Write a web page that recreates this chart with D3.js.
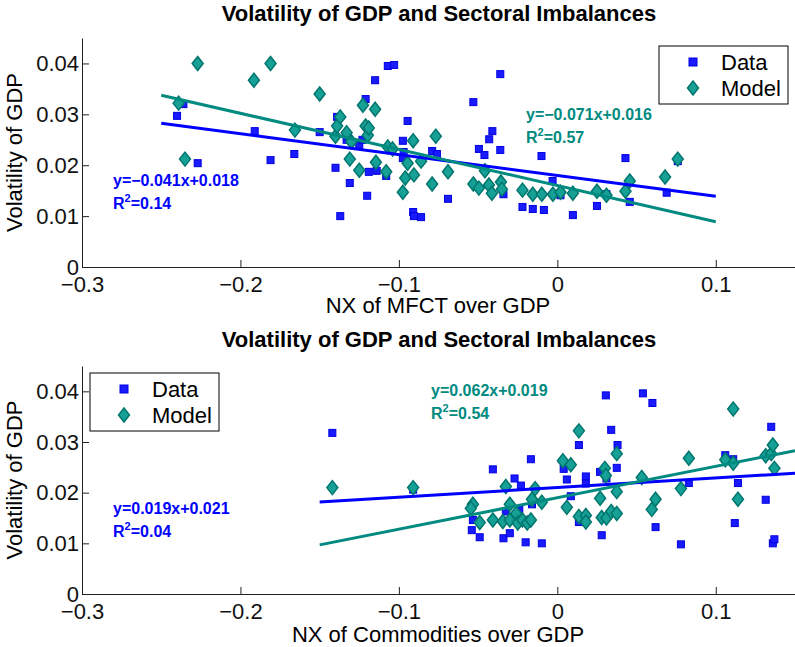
<!DOCTYPE html>
<html>
<head>
<meta charset="utf-8">
<script src="https://cdn.jsdelivr.net/npm/d3@7"></script>
<style>
  body { margin: 0; background: #fff; }
  svg { font-family: "Liberation Sans", Arial, sans-serif; }
</style>
</head>
<body>
<svg width="795" height="647"></svg>
<script>
// values: [x, y]
const topData = [
  [-0.236, 0.0320], [-0.240, 0.0297], [-0.227, 0.0204], [-0.191, 0.0267], [-0.181, 0.0210],
  [-0.166, 0.0222], [-0.150, 0.0265], [-0.140, 0.0195], [-0.139, 0.0295], [-0.137, 0.0100],
  [-0.131, 0.0165], [-0.133, 0.0250], [-0.125, 0.0240], [-0.123, 0.0250], [-0.121, 0.0330],
  [-0.120, 0.0140], [-0.119, 0.0187], [-0.115, 0.0367], [-0.114, 0.0189], [-0.108, 0.0179],
  [-0.107, 0.0395], [-0.103, 0.0397], [-0.0975, 0.0248], [-0.0945, 0.0287], [-0.097, 0.0226],
  [-0.0975, 0.0214], [-0.091, 0.0108], [-0.0905, 0.0100], [-0.086, 0.0098], [-0.079, 0.0228],
  [-0.076, 0.0222], [-0.069, 0.0134], [-0.053, 0.0324], [-0.0495, 0.0232], [-0.046, 0.0220],
  [-0.043, 0.0251], [-0.041, 0.0267], [-0.036, 0.0379], [-0.036, 0.0230], [-0.034, 0.0143],
  [-0.022, 0.0118], [-0.0155, 0.0114], [-0.010, 0.0218], [-0.0085, 0.0112], [-0.003, 0.0169],
  [0.002, 0.0141], [0.0098, 0.0102], [0.025, 0.0120], [0.031, 0.0143], [0.043, 0.0214],
  [0.0457, 0.0128], [0.069, 0.0146], [0.076, 0.0208]
]
const topModel = [
  [-0.239, 0.0322], [-0.235, 0.0212], [-0.227, 0.0400], [-0.1915, 0.0367], [-0.181, 0.0400],
  [-0.1656, 0.0269], [-0.150, 0.0340], [-0.140, 0.0257], [-0.139, 0.0277], [-0.137, 0.0295],
  [-0.133, 0.0264], [-0.131, 0.0212], [-0.130, 0.0246], [-0.125, 0.0190], [-0.1227, 0.0318],
  [-0.121, 0.0277], [-0.1196, 0.0259], [-0.119, 0.0273], [-0.115, 0.0310], [-0.1145, 0.0206],
  [-0.108, 0.0187], [-0.107, 0.0236], [-0.104, 0.0232], [-0.0975, 0.0147], [-0.096, 0.0175],
  [-0.0945, 0.0204], [-0.091, 0.0248], [-0.0905, 0.0181], [-0.086, 0.0208], [-0.079, 0.0163],
  [-0.0767, 0.0257], [-0.069, 0.0187], [-0.053, 0.0163], [-0.0495, 0.0155], [-0.0457, 0.0189],
  [-0.0432, 0.0161], [-0.0413, 0.0145], [-0.0356, 0.0167], [-0.035, 0.0153], [-0.022, 0.0151],
  [-0.0155, 0.0143], [-0.0098, 0.0143], [-0.0028, 0.0143], [0.002, 0.0147], [0.0098, 0.0145],
  [0.025, 0.0149], [0.031, 0.0141], [0.043, 0.0149], [0.0457, 0.0169], [0.068, 0.0177],
  [0.076, 0.0212]
]
const bottomData = [
  [-0.142, 0.0318], [-0.091, 0.0206], [-0.0407, 0.0246], [-0.0533, 0.0146], [-0.054, 0.0126],
  [-0.049, 0.0112], [-0.034, 0.0110], [-0.030, 0.0120], [-0.0325, 0.0163], [-0.027, 0.0228],
  [-0.023, 0.0214], [-0.024, 0.0167], [-0.029, 0.0146], [-0.020, 0.0102], [-0.0167, 0.0266],
  [-0.016, 0.0177], [-0.0098, 0.0100], [0.004, 0.0247], [0.006, 0.0226], [0.0085, 0.0193],
  [0.0136, 0.0294], [0.0136, 0.0142], [0.018, 0.0232], [0.018, 0.0218], [0.027, 0.0241],
  [0.028, 0.0116], [0.0306, 0.0392], [0.031, 0.0228], [0.034, 0.0324], [0.0375, 0.0249],
  [0.038, 0.0294], [0.054, 0.0396], [0.060, 0.0377], [0.062, 0.0132], [0.078, 0.0098],
  [0.083, 0.0219], [0.106, 0.0274], [0.111, 0.0266], [0.112, 0.0140], [0.114, 0.0219],
  [0.1315, 0.0186], [0.135, 0.0330], [0.136, 0.0100], [0.137, 0.0108]
]
const bottomModel = [
  [-0.142, 0.0210], [-0.091, 0.0210], [-0.0533, 0.0177], [-0.0546, 0.0169], [-0.049, 0.0141],
  [-0.0407, 0.0146], [-0.0344, 0.0143], [-0.0325, 0.0212], [-0.030, 0.0177], [-0.030, 0.0146],
  [-0.026, 0.0159], [-0.025, 0.0140], [-0.022, 0.0146], [-0.019, 0.0140], [-0.0167, 0.0146],
  [-0.016, 0.0187], [-0.014, 0.0208], [-0.0098, 0.0181], [0.0035, 0.0263], [0.006, 0.0171],
  [0.0085, 0.0255], [0.0136, 0.0322], [0.0136, 0.0153], [0.018, 0.0155], [0.018, 0.0142],
  [0.027, 0.0189], [0.028, 0.0151], [0.030, 0.0248], [0.0306, 0.0234], [0.031, 0.0150],
  [0.034, 0.0163], [0.0375, 0.0277], [0.0375, 0.0202], [0.0375, 0.0159], [0.0533, 0.0230],
  [0.0596, 0.0167], [0.062, 0.0187], [0.078, 0.0208], [0.083, 0.0268], [0.106, 0.0265],
  [0.111, 0.0365], [0.111, 0.0258], [0.114, 0.0187], [0.1315, 0.0273], [0.135, 0.0277],
  [0.136, 0.0294], [0.137, 0.0248]
]

// fitted lines: slope, intercept, x range
const topFits = { data: [-0.041, 0.018], model: [-0.071, 0.016], xr: [-0.25, 0.1] }
const bottomFits = { data: [0.019, 0.021], model: [0.062, 0.019], xr: [-0.15, 0.15] }
const fitLabels = {
  top: { data: ['y=\u22120.041x+0.018', '0.14'], model: ['y=\u22120.071x+0.016', '0.57'] },
  bottom: { data: ['y=0.019x+0.021', '0.04'], model: ['y=0.062x+0.019', '0.54'] }
}

const xTicks = [-0.3, -0.2, -0.1, 0, 0.1]
const xTickLabels = ['\u22120.3', '\u22120.2', '\u22120.1', '0', '0.1']
const yTicks = [0, 0.01, 0.02, 0.03, 0.04]
const yTickLabels = ['0', '0.01', '0.02', '0.03', '0.04']
const seriesNames = ['Data', 'Model']
const chartTitle = 'Volatility of GDP and Sectoral Imbalances'
const yTitle = 'Volatility of GDP'

const blue = '#0000ff'
const teal = '#008a80'
const sqFill = '#1a1aff', sqEdge = '#0000e0'
const dmFill = '#16a096', dmEdge = '#00766e'

const svg = d3.select('svg')

const xScale = d3.scaleLinear().domain([-0.3, 0.15]).range([82, 795])

const diamond = (x, y) => `M${x},${y - 7}L${x + 5.5},${y}L${x},${y + 7}L${x - 5.5},${y}Z`

const panel = opt => {
  const yScale = d3.scaleLinear().domain([0, 0.045]).range(opt.yRange)
  const bottom = opt.yRange[0]
  const g = svg.append('g')

  g.append('text')
    .attr('x', 439).attr('y', opt.titleY)
    .attr('text-anchor', 'middle')
    .attr('font-size', 22).attr('font-weight', 'bold')
    .text(chartTitle)

  // squares, then diamonds
  g.append('g').selectAll('rect').data(opt.data)
    .enter().append('rect')
      .attr('x', d => xScale(d[0]) - 3.5)
      .attr('y', d => yScale(d[1]) - 3.5)
      .attr('width', 7).attr('height', 7)
      .attr('fill', sqFill).attr('stroke', sqEdge).attr('stroke-width', 1)

  g.append('g').selectAll('path').data(opt.model)
    .enter().append('path')
      .attr('d', d => diamond(xScale(d[0]), yScale(d[1])))
      .attr('fill', dmFill).attr('stroke', dmEdge).attr('stroke-width', 1.5)

  const fitLine = (coef, color) => {
    const pts = opt.fits.xr.map(x => [x, coef[0] * x + coef[1]])
    g.append('path')
      .attr('d', d3.line().x(d => xScale(d[0])).y(d => yScale(d[1]))(pts))
      .attr('stroke', color).attr('stroke-width', 3).attr('fill', 'none')
  }
  fitLine(opt.fits.data, blue)
  fitLine(opt.fits.model, teal)

  const fitText = (lab, pos, color) => {
    const t = g.append('g').attr('fill', color)
      .attr('font-size', 16).attr('font-weight', 'bold')
    t.append('text').attr('x', pos[0]).attr('y', pos[1]).text(lab[0])
    const r = t.append('text').attr('x', pos[0]).attr('y', pos[1] + 23)
    r.append('tspan').text('R')
    r.append('tspan').attr('font-size', 11).attr('dy', -7).text('2')
    r.append('tspan').attr('dy', 7).text('=' + lab[1])
  }
  fitText(opt.labels.data, opt.dataLabelPos, blue)
  fitText(opt.labels.model, opt.modelLabelPos, teal)

  // axes
  const xAxis = d3.axisBottom(xScale).tickValues(xTicks)
    .tickFormat((d, i) => xTickLabels[i]).tickSizeInner(-7).tickSizeOuter(0).tickPadding(opt.xPad)
  const yAxis = d3.axisLeft(yScale).tickValues(yTicks)
    .tickFormat((d, i) => yTickLabels[i]).tickSizeInner(-7).tickSizeOuter(0).tickPadding(3)

  const ax = g.append('g').attr('transform', `translate(0, ${bottom})`).call(xAxis)
  const ay = g.append('g').attr('transform', 'translate(82, 0)').call(yAxis)
  for (const a of [ax, ay]) {
    a.attr('font-size', 22).attr('font-family', null)
    a.selectAll('path, line').attr('stroke', '#222')
    a.selectAll('text').attr('fill', '#111')
  }

  g.append('text')
    .attr('x', 438).attr('y', opt.xLabelY)
    .attr('text-anchor', 'middle').attr('font-size', 22)
    .text(opt.xTitle)
  g.append('text')
    .attr('transform', `translate(22, ${(opt.yRange[0] + opt.yRange[1]) / 2}) rotate(-90)`)
    .attr('text-anchor', 'middle').attr('font-size', 22)
    .text(yTitle)

  // legend
  const [lx, ly] = opt.legendPos
  const lg = g.append('g').attr('transform', `translate(${lx}, ${ly})`)
  lg.append('rect').attr('width', 129).attr('height', 58)
    .attr('fill', '#fff').attr('stroke', '#000').attr('stroke-width', 1)
  lg.append('rect').attr('x', 30).attr('y', 12).attr('width', 8).attr('height', 8)
    .attr('fill', sqFill).attr('stroke', sqEdge)
  lg.append('path').attr('d', diamond(34, 42))
    .attr('fill', dmFill).attr('stroke', dmEdge).attr('stroke-width', 1.5)
  seriesNames.forEach((s, i) => {
    lg.append('text').attr('x', 62).attr('y', 24 + i * 26)
      .attr('font-size', 22).text(s)
  })
}

panel({
  yRange: [267, 38], titleY: 21, xLabelY: 313, xPad: 9,
  data: topData, model: topModel, fits: topFits, labels: fitLabels.top,
  dataLabelPos: [113, 186], modelLabelPos: [526, 120],
  legendPos: [659, 46], xTitle: 'NX of MFCT over GDP'
})
panel({
  yRange: [594, 366], titleY: 347, xLabelY: 642, xPad: 9,
  data: bottomData, model: bottomModel, fits: bottomFits, labels: fitLabels.bottom,
  dataLabelPos: [113, 514], modelLabelPos: [431, 396],
  legendPos: [90, 373], xTitle: 'NX of Commodities over GDP'
})
</script>
</body>
</html>
